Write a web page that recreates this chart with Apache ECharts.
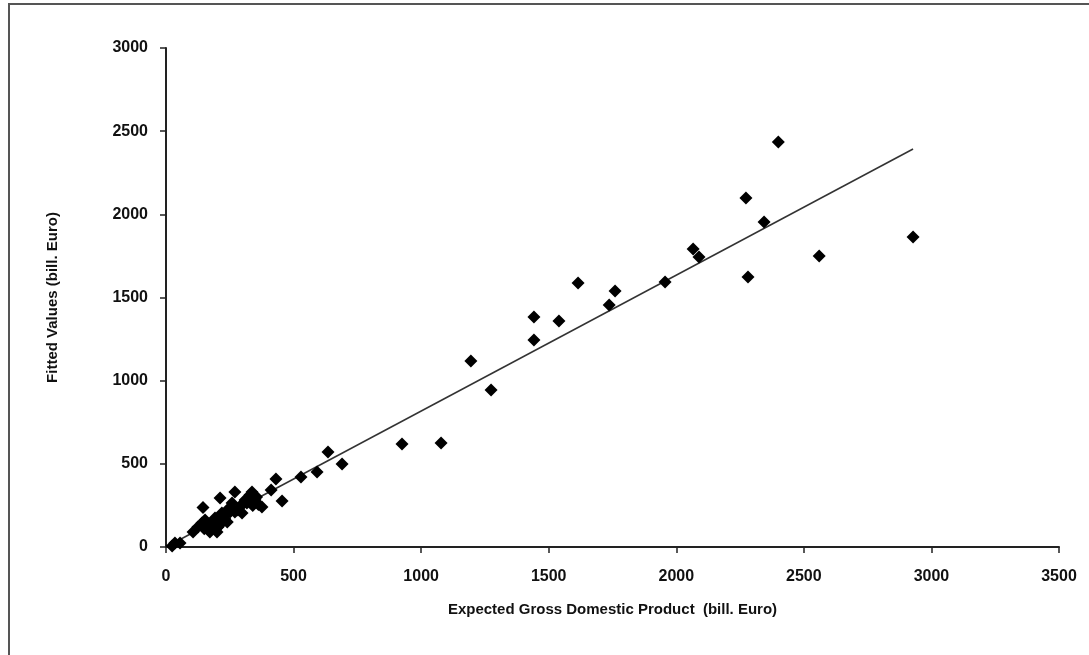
<!DOCTYPE html>
<html>
<head>
<meta charset="utf-8">
<script src="https://cdn.jsdelivr.net/npm/echarts@6/dist/echarts.min.js"></script>
<style>
  html, body { margin: 0; padding: 0; background: #fff; }
  #main { width: 1089px; height: 655px; }
</style>
</head>
<body>
<div id="main"></div>
<script>
// observed points: expected GDP (x) vs fitted values (y), bill. Euro
var gdpX = [24, 35, 55, 106, 125, 141, 145, 150, 153, 165, 172, 180, 184, 192, 195, 200, 204, 212,
            215, 219, 224, 230, 231, 240, 245, 251, 259, 270, 270, 282, 290, 298, 300, 310, 317, 320,
            329, 337, 340, 349, 355, 362, 376, 412, 431, 455, 529, 592, 635, 690, 925, 1078, 1195,
            1274, 1442, 1442, 1540, 1615, 1737, 1760, 1956, 2066, 2089, 2273, 2281, 2344, 2400,
            2560, 2928];
var fittedY = [6, 24, 24, 90, 120, 144, 237, 110, 162, 114, 90, 144, 120, 174, 150, 90, 120, 295,
               140, 204, 162, 170, 192, 150, 230, 210, 264, 331, 210, 222, 240, 204, 260, 283, 264, 290,
               313, 331, 250, 283, 300, 255, 240, 343, 409, 277, 421, 451, 571, 499, 619, 625, 1118,
               944, 1245, 1383, 1359, 1587, 1455, 1539, 1593, 1792, 1743, 2098, 1623, 1954, 2435,
               1750, 1864];
// trend line end points
var trendX = [22, 2928];
var trendY = [18, 2393];

var xTicks = [0, 500, 1000, 1500, 2000, 2500, 3000, 3500];
var yTicks = [0, 500, 1000, 1500, 2000, 2500, 3000];

var points = gdpX.map(function (x, i) { return [x, fittedY[i]]; });
var trend = trendX.map(function (x, i) { return [x, trendY[i]]; });

var font = '"Liberation Sans", Arial, sans-serif';
var plain = function (v) { return String(v); };

var chart = echarts.init(document.getElementById('main'));
chart.setOption({
    animation: false,
    backgroundColor: '#fff',
    grid: { left: 166, right: 30, top: 48, bottom: 108 },
    graphic: [{
        type: 'rect',
        shape: { x: 9, y: 4, width: 1200, height: 800 },
        style: { fill: 'none', stroke: '#555', lineWidth: 2 }
    }],
    xAxis: {
        type: 'value',
        min: xTicks[0], max: xTicks[xTicks.length - 1], interval: 500,
        name: 'Expected Gross Domestic Product  (bill. Euro)',
        nameLocation: 'middle', nameGap: 55,
        nameTextStyle: { fontFamily: font, fontWeight: 'bold', fontSize: 15, color: '#111' },
        axisLine: { lineStyle: { color: '#222', width: 2 } },
        axisTick: { show: true, inside: false, length: 6, lineStyle: { color: '#222', width: 1.5 } },
        axisLabel: { margin: 22, formatter: plain, fontFamily: font, fontWeight: 'bold', fontSize: 16, color: '#111' },
        splitLine: { show: false }
    },
    yAxis: {
        type: 'value',
        min: yTicks[0], max: yTicks[yTicks.length - 1], interval: 500,
        name: 'Fitted Values (bill. Euro)',
        nameLocation: 'middle', nameGap: 106, nameRotate: 90,
        nameTextStyle: { fontFamily: font, fontWeight: 'bold', fontSize: 15, color: '#111' },
        axisLine: { show: true, lineStyle: { color: '#222', width: 2 } },
        axisTick: { show: true, inside: false, length: 6, lineStyle: { color: '#222', width: 1.5 } },
        axisLabel: { margin: 18, formatter: plain, fontFamily: font, fontWeight: 'bold', fontSize: 16, color: '#111' },
        splitLine: { show: false }
    },
    series: [
        {
            type: 'line',
            data: trend,
            symbol: 'none',
            lineStyle: { color: '#333', width: 1.5 },
            z: 1
        },
        {
            type: 'scatter',
            data: points,
            symbol: 'diamond',
            symbolSize: 13,
            itemStyle: { color: '#000', opacity: 1 },
            z: 2
        }
    ]
});
</script>
</body>
</html>
